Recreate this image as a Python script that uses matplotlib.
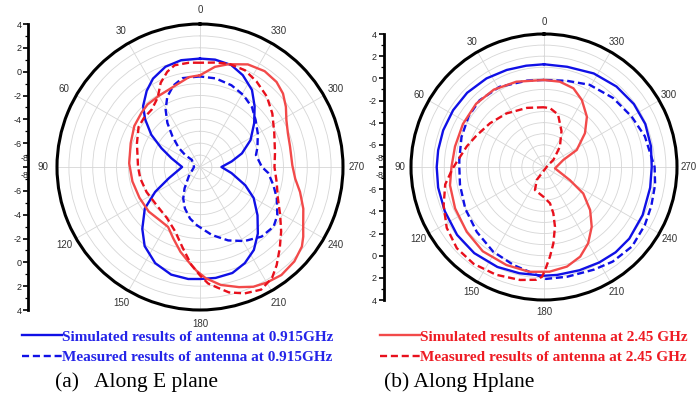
import numpy as np
import matplotlib
matplotlib.use("Agg")
import matplotlib.pyplot as plt

plt.rcParams["font.family"] = "sans-serif"
plt.rcParams["font.sans-serif"] = ["Liberation Sans", "DejaVu Sans"]

# ── gains (angle in deg, gain in dB) ──────────────────────────────────────────
# (a) E plane, 0.915 GHz
E_SIM_ANG = [0, 10, 19, 28, 35, 43, 49, 56.5, 64, 73, 90, 110, 119, 127, 137, 145, 155,
             165, 174, 180, 188, 197, 205, 213, 221, 230, 240, 248, 259, 270, 280, 288,
             298, 309, 318, 326, 335, 343, 352, 360]
E_SIM_DB = [1.1, 1.1, 0.9, 0.4, -0.2, -1.0, -1.9, -3.1, -4.4, -5.5, -6.5, -5.2, -3.7, -2.2,
            -0.9, 0.1, 0.9, 1.35, 1.45, 1.4, 1.4, 1.3, 0.9, 0.3, -0.6, -1.7, -2.8, -3.9,
            -5.3, -6.2, -5.3, -4.3, -3.2, -2.15, -1.15, -0.2, 0.5, 0.95, 1.1, 1.1]
E_MEAS_ANG = [0, 11, 18, 25, 31, 36.5, 42, 48, 51, 49, 90, 129, 144, 152, 160, 169, 177,
              190, 201, 211, 221.5, 231, 238, 248, 256, 265, 270, 282, 289, 300, 310,
              319, 329, 339, 350, 360]
E_MEAS_DB = [-0.4, -0.4, -0.8, -1.5, -2.4, -3.4, -4.55, -5.6, -6.4, -7.1, -7.5, -6.8,
             -5.8, -5.0, -4.3, -3.6, -3.1, -2.2, -1.4, -0.75, -0.2, -0.05, -0.35, -1.05,
             -1.65, -2.25, -2.8, -3.2, -2.9, -2.4, -1.9, -1.35, -0.95, -0.65, -0.45, -0.4]

# (a) E plane, 2.45 GHz
E2_SIM_ANG = [0, 7, 20, 30, 40, 47, 58, 71, 87, 102, 117, 131, 143, 152, 159.5, 167, 173,
              178, 183, 190, 198, 204, 210, 217, 225, 232, 236, 241, 248, 256, 263, 271,
              283, 291, 298.5, 305, 311.5, 318, 326, 335, 344.5, 351.5, 360]
E2_SIM_DB = [-0.3, -0.4, -0.95, -1.1, -1.15, -1.3, -1.5, -1.85, -2.05, -2.2, -2.3, -2.3,
             -2.4, -2.3, -1.6, -0.7, 0.0, 0.7, 1.35, 2.05, 2.6, 3.0, 3.2, 3.35, 3.2, 2.85,
             2.45, 1.9, 1.35, 0.65, 0.05, -0.25, -0.25, -0.1, 0.25, 0.8, 1.3, 1.6, 1.7,
             1.5, 0.95, 0.5, -0.3]
E2_MEAS_ANG = [0, 6, 14, 19, 25, 30, 33, 40, 49, 57, 69.5, 90, 101, 115, 131, 147, 159,
               168, 175, 180, 184, 188, 193, 199.5, 206.5, 213, 218, 224.5, 231.5, 239,
               248, 259, 270, 280.5, 294.5, 306.5, 316.5, 326.5, 335, 344.5, 352, 360]
E2_MEAS_DB = [0.75, 0.8, 0.8, 0.45, -0.2, -1.0, -1.3, -1.7, -1.75, -1.85, -2.35, -2.8,
              -2.9, -3.05, -3.15, -2.9, -2.2, -1.05, 0.25, 1.1, 1.8, 2.2, 2.8, 3.25, 3.5,
              3.1, 2.45, 1.55, 0.7, -0.15, -0.95, -1.45, -1.75, -1.6, -1.15, -0.45, 0.15,
              0.6, 0.95, 1.0, 0.85, 0.75]

# (b) H plane, 0.915 GHz
H_SIM_ANG = [0, 10, 21, 33, 46, 58, 70, 81, 90, 101, 114, 128, 141, 155, 167, 180, 187,
             199, 210, 220, 230, 244, 259, 270, 281, 293, 305, 318, 332, 347, 360]
H_SIM_DB = [1.27, 1.28, 1.38, 1.53, 1.64, 1.67, 1.68, 1.67, 1.68, 1.73, 1.8, 1.95, 2.0,
            1.95, 1.84, 1.81, 1.81, 1.85, 1.95, 2.05, 2.05, 1.9, 1.76, 1.72, 1.83, 1.93,
            1.9, 1.77, 1.56, 1.28, 1.27]
H_MEAS_ANG = [0, 11, 29, 44, 56, 70, 85, 90, 102, 118, 134, 149, 163, 174, 181, 192, 206,
              216, 228, 240, 250, 261, 270, 287, 300, 315, 331, 345, 360]
H_MEAS_DB = [-0.15, -0.06, 0.27, 0.37, 0.2, -0.08, -0.33, -0.36, -0.25, 0.04, 0.43, 0.91,
             1.27, 1.64, 2.1, 2.12, 2.3, 2.55, 2.7, 2.5, 2.3, 2.15, 1.98, 1.51, 1.12, 0.81,
             0.48, 0.05, -0.15]

# (b) H plane, 2.45 GHz
H2_SIM_ANG = [0, 18, 33, 47, 62, 77, 90, 101, 115, 130, 144, 159, 172, 183, 193, 202, 210,
              218.6, 227, 236, 243, 263, 290, 297.5, 309.5, 319.5, 330.5, 339.5, 349.5, 360]
H2_SIM_DB = [-0.15, 0.09, 0.32, 0.37, 0.28, 0.24, 0.35, 0.64, 0.85, 1.1, 1.4, 1.47, 1.55,
             1.46, 1.22, 0.72, -0.04, -1.1, -2.31, -3.73, -5.37, -7.0, -6.15, -4.67, -3.21,
             -2.04, -1.06, -0.42, -0.17, -0.15]
H2_MEAS_ANG = [0, 16, 35, 51, 65, 75, 85, 91, 100, 111, 122, 133, 144, 156, 168, 176, 179,
               180.6, 183.8, 187, 190.4, 191.4, 189.4, 178.7, 158.6, 150.7, 295, 307, 313,
               322, 334, 345, 354, 360]
H2_MEAS_DB = [-2.61, -2.45, -2.1, -1.73, -1.28, -0.79, -0.24, 0.25, 1.05, 1.7, 2.35, 2.75,
              2.8, 2.64, 2.42, 2.2, 1.9, 1.3, 0.11, -1.06, -2.52, -3.74, -4.68, -5.32,
              -5.77, -6.66, -7.6, -6.95, -6.64, -5.67, -4.4, -3.1, -2.67, -2.61]

THETA_TICKS = list(range(0, 360, 30))
R_MIN, R_MAX = -8, 4

LABEL_SIM_1 = "Simulated results of antenna at 0.915GHz"
LABEL_MEAS_1 = "Measured results of antenna at 0.915GHz"
LABEL_SIM_2 = "Simulated results of antenna at 2.45 GHz"
LABEL_MEAS_2 = "Measured results of antenna at 2.45 GHz"
CAPTION_A = "(a)   Along E plane"
CAPTION_B = "(b) Along Hplane"

BLUE = "#1010e6"
BLUE_TEXT = "#2424e8"
RED_SIM = "#f24a4a"
RED_MEAS = "#e8101c"
RED_TEXT = "#ee1c24"
DASH = (3.0, 1.6)

W, H = 697, 399
fig = plt.figure(figsize=(W / 100, H / 100), dpi=100)


def px_box(cx, cy, rad):
    return [(cx - rad) / W, (H - cy - rad) / H, 2 * rad / W, 2 * rad / H]


def polar_panel(cx, cy, rad, label_pad):
    ax = fig.add_axes(px_box(cx, cy, rad), projection="polar")
    ax.set_theta_zero_location("N")
    ax.set_theta_direction(1)
    ax.set_ylim(R_MIN, R_MAX)
    ax.set_yticks(np.arange(R_MIN + 1, R_MAX))
    ax.set_yticklabels([])
    ax.set_xticks(np.deg2rad(THETA_TICKS))
    ax.set_xticklabels([str(t) for t in THETA_TICKS], fontsize=7, color="#333333")
    ax.tick_params(axis="x", pad=label_pad, direction="inout", length=5, width=1.3)
    ax.tick_params(axis="y", length=0)
    ax.grid(True, color="#d6d6d6", linewidth=0.6)
    ax.spines["polar"].set_linewidth(2.2)
    return ax


def radial_bar(x, cy, rad):
    span = R_MAX - R_MIN
    ax = fig.add_axes([x / W, (H - cy - rad) / H, 0.0001, 2 * rad / H])
    ax.set_ylim(-span, span)
    ax.set_xlim(0, 1)
    for s in ["top", "right", "bottom"]:
        ax.spines[s].set_visible(False)
    ax.spines["left"].set_linewidth(2)
    ax.set_xticks([])
    pos = list(range(-span, span + 1, 2))
    ax.set_yticks(pos)
    ax.set_yticklabels(["" if p == 0 else str(R_MIN + abs(p)) for p in pos],
                       fontsize=6.5, color="#222222")
    ax.set_yticks(np.arange(-span + 1, span, 2), minor=True)
    ax.tick_params(axis="y", which="major", length=3.5, width=1.2, pad=1.5)
    ax.tick_params(axis="y", which="minor", length=2, width=0.9)
    for off in (0.75, -0.75):
        ax.text(-0.5, off, str(R_MIN), transform=ax.get_yaxis_transform(),
                ha="right", va="center", fontsize=6.5, color="#222222")
    return ax


def draw(ax, ang, db, color, dashed, label):
    kw = dict(color=color, linewidth=1.7, label=label)
    if dashed:
        kw["dashes"] = DASH
    return ax.plot(np.deg2rad(ang), db, **kw)[0]


ax_e = polar_panel(200, 167, 143, 0.5)
ax_h = polar_panel(544, 167, 133, -1.2)
radial_bar(28.5, 167, 143)
radial_bar(383.5, 167, 133)

l1 = draw(ax_e, E_SIM_ANG, E_SIM_DB, BLUE, False, LABEL_SIM_1)
l2 = draw(ax_e, E_MEAS_ANG, E_MEAS_DB, BLUE, True, LABEL_MEAS_1)
draw(ax_e, E2_SIM_ANG, E2_SIM_DB, RED_SIM, False, None)
draw(ax_e, E2_MEAS_ANG, E2_MEAS_DB, RED_MEAS, True, None)

draw(ax_h, H_SIM_ANG, H_SIM_DB, BLUE, False, None)
draw(ax_h, H_MEAS_ANG, H_MEAS_DB, BLUE, True, None)
l3 = draw(ax_h, H2_SIM_ANG, H2_SIM_DB, RED_SIM, False, LABEL_SIM_2)
l4 = draw(ax_h, H2_MEAS_ANG, H2_MEAS_DB, RED_MEAS, True, LABEL_MEAS_2)

legend_font = {"family": "Liberation Serif", "weight": "bold", "size": 11}
for handles, x0, col in (([l1, l2], 22, BLUE_TEXT), ([l3, l4], 380, RED_TEXT)):
    fig.legend(handles, [h.get_label() for h in handles], loc="upper left",
               bbox_to_anchor=(x0 / W, 1 - 330 / H), frameon=False, prop=legend_font,
               labelcolor=col, handlelength=2.6, handletextpad=0.05, labelspacing=0.45,
               borderpad=0, borderaxespad=0)

caption_font = dict(fontsize=15.5, family="Liberation Serif", va="center", ha="left")
fig.text(55 / W, 1 - 382 / H, CAPTION_A, **caption_font)
fig.text(384 / W, 1 - 382 / H, CAPTION_B, **caption_font)

fig.savefig("out.png", dpi=100, facecolor="white")
